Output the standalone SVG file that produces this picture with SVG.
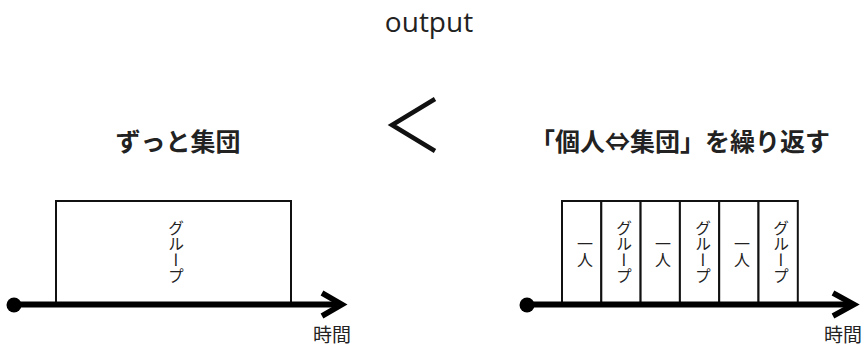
<svg xmlns="http://www.w3.org/2000/svg" width="865" height="346" viewBox="0 0 865 346">
  <style>
    .title { font-family: "Noto Sans CJK JP", "Noto Sans", sans-serif; font-weight: 700; font-size: 25px; fill: #222; text-anchor: middle; }
    .head { font-family: "Open Sans", "Noto Sans", sans-serif; font-size: 28px; fill: #222; text-anchor: middle; }
    .axis-label { font-family: "Noto Sans CJK JP", sans-serif; font-size: 19px; fill: #222; text-anchor: middle; }
    .vlabel { font-family: "Noto Sans CJK JP", sans-serif; font-size: 16px; fill: #222; text-anchor: middle; writing-mode: vertical-rl; }
    .box { fill: #fff; stroke: #111; stroke-width: 2; }
    .axis { stroke: #000; stroke-width: 6; fill: none; }
    .head-arrow { stroke: #000; stroke-width: 5.5; fill: none; stroke-linejoin: miter; }
  </style>

  <text class="head" x="429" y="32">output</text>

  <!-- comparison sign -->
  <polyline points="435,99 392,125 435,151" fill="none" stroke="#111" stroke-width="4.5" stroke-linejoin="miter"/>

  <text class="title" x="178" y="151">ずっと集団</text>
  <text class="title" x="680" y="151">「個人⇔集団」を繰り返す</text>

  <!-- left timeline -->
  <g id="left-group">
    <rect class="box" x="56" y="201" width="235" height="103"/>
    <text class="vlabel" x="176" y="252">グループ</text>
  </g>

  <!-- right timeline -->
  <g id="right-solo-1">
    <rect class="box" x="562" y="201" width="39.3" height="103"/>
    <text class="vlabel" x="585" y="252">一人</text>
  </g>
  <g id="right-group-1">
    <rect class="box" x="601.3" y="201" width="39.3" height="103"/>
    <text class="vlabel" x="624" y="252">グループ</text>
  </g>
  <g id="right-solo-2">
    <rect class="box" x="640.6" y="201" width="39.3" height="103"/>
    <text class="vlabel" x="663" y="252">一人</text>
  </g>
  <g id="right-group-2">
    <rect class="box" x="679.9" y="201" width="39.3" height="103"/>
    <text class="vlabel" x="703" y="252">グループ</text>
  </g>
  <g id="right-solo-3">
    <rect class="box" x="719.2" y="201" width="39.3" height="103"/>
    <text class="vlabel" x="742" y="252">一人</text>
  </g>
  <g id="right-group-3">
    <rect class="box" x="758.5" y="201" width="39.3" height="103"/>
    <text class="vlabel" x="781" y="252">グループ</text>
  </g>

  <g id="connectors">
    <line class="axis" x1="14" y1="304.5" x2="340" y2="304.5"/>
    <circle cx="14" cy="305" r="7.5" fill="#000"/>
    <polyline class="head-arrow" points="322,293 342,304.5 322,316"/>

    <line class="axis" x1="527" y1="304.5" x2="852" y2="304.5"/>
    <circle cx="527" cy="305" r="7.5" fill="#000"/>
    <polyline class="head-arrow" points="833,293 854,304.5 833,316"/>
  </g>

  <text class="axis-label" x="332" y="342">時間</text>
  <text class="axis-label" x="843" y="342">時間</text>
</svg>
